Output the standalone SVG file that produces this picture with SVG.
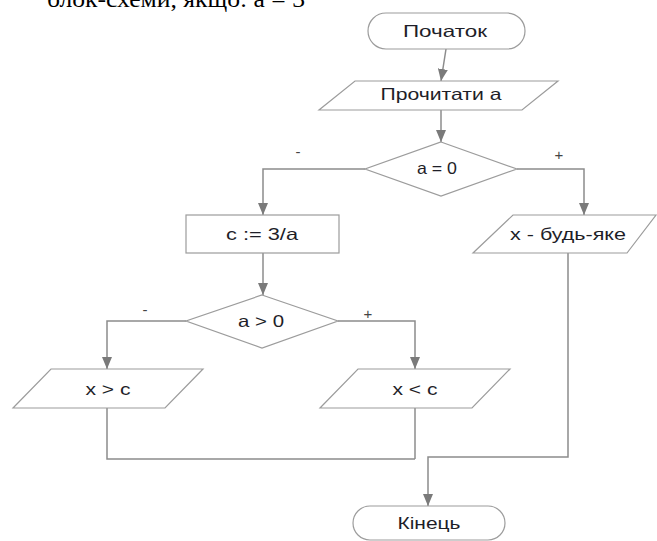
<svg xmlns="http://www.w3.org/2000/svg" width="657" height="541" viewBox="0 0 657 541">
<defs>
<style>
.shape{fill:#fff;stroke:#9c9c9c;stroke-width:1.2}
.line{fill:none;stroke:#8c8c8c;stroke-width:1.5}
.t{font-family:"Liberation Sans",Arial,sans-serif;font-size:16.5px;fill:#1e1e28;text-anchor:middle}
.lbl{font-family:"Liberation Sans",Arial,sans-serif;font-size:15px;fill:#444;text-anchor:middle}
.title{font-family:"Liberation Serif","Times New Roman",serif;font-size:24px;fill:#000}
</style>
<marker id="arr" viewBox="0 0 12 10" refX="12" refY="5" markerWidth="12" markerHeight="10" markerUnits="userSpaceOnUse" orient="auto">
<path d="M0,0 L12,5 L0,10 z" fill="#7a7a7a"/>
</marker>
</defs>
<rect width="657" height="541" fill="#fff"/>
<text class="title" x="47" y="7" textLength="258" lengthAdjust="spacingAndGlyphs">блок-схеми, якщо: а = 3</text>
<g id="connectors">
<path class="line" d="M446,49 L441,81" marker-end="url(#arr)"/>
<path class="line" d="M441,110 V142" marker-end="url(#arr)"/>
<path class="line" d="M365,169 H263 V215" marker-end="url(#arr)"/>
<path class="line" d="M517,169 H584 V215" marker-end="url(#arr)"/>
<path class="line" d="M263,253 V295" marker-end="url(#arr)"/>
<path class="line" d="M186,321 H107 V369" marker-end="url(#arr)"/>
<path class="line" d="M338,321 H415 V369" marker-end="url(#arr)"/>
<path class="line" d="M107,408 V459 H415"/>
<path class="line" d="M415,408 V459"/>
<path class="line" d="M568,253 V457 H428 V506" marker-end="url(#arr)"/>
<text class="lbl" x="298" y="157">-</text>
<text class="lbl" x="559" y="160">+</text>
<text class="lbl" x="145" y="315">-</text>
<text class="lbl" x="368" y="319">+</text>
</g>
<g id="start">
<rect class="shape" x="368" y="13" width="157" height="36" rx="18"/>
<text class="t" x="445" y="37" textLength="84" lengthAdjust="spacingAndGlyphs">Початок</text>
</g>
<g id="read">
<polygon class="shape" points="355,81 558,81 522,110 319,110"/>
<text class="t" x="441" y="100" textLength="121" lengthAdjust="spacingAndGlyphs">Прочитати а</text>
</g>
<g id="cond1">
<polygon class="shape" points="441,142 517,169 441,196 365,169"/>
<text class="t" x="437" y="174" textLength="40" lengthAdjust="spacingAndGlyphs">a = 0</text>
</g>
<g id="calc">
<rect class="shape" x="186" y="215" width="153" height="38"/>
<text class="t" x="262" y="240" textLength="72" lengthAdjust="spacingAndGlyphs">c := 3/a</text>
</g>
<g id="any">
<polygon class="shape" points="513,215 656,215 627,253 473,253"/>
<text class="t" x="568" y="240" textLength="116" lengthAdjust="spacingAndGlyphs">x - будь-яке</text>
</g>
<g id="cond2">
<polygon class="shape" points="262,295 338,321 262,348 186,321"/>
<text class="t" x="261" y="327" textLength="46" lengthAdjust="spacingAndGlyphs">a &gt; 0</text>
</g>
<g id="gt">
<polygon class="shape" points="51,369 203,369 165,408 13,408"/>
<text class="t" x="108" y="395" textLength="45" lengthAdjust="spacingAndGlyphs">x &gt; c</text>
</g>
<g id="lt">
<polygon class="shape" points="358,369 510,369 472,408 320,408"/>
<text class="t" x="415" y="395" textLength="45" lengthAdjust="spacingAndGlyphs">x &lt; c</text>
</g>
<g id="end">
<rect class="shape" x="353" y="506" width="152" height="34" rx="17"/>
<text class="t" x="429" y="529" textLength="63" lengthAdjust="spacingAndGlyphs">Кінець</text>
</g>
</svg>
